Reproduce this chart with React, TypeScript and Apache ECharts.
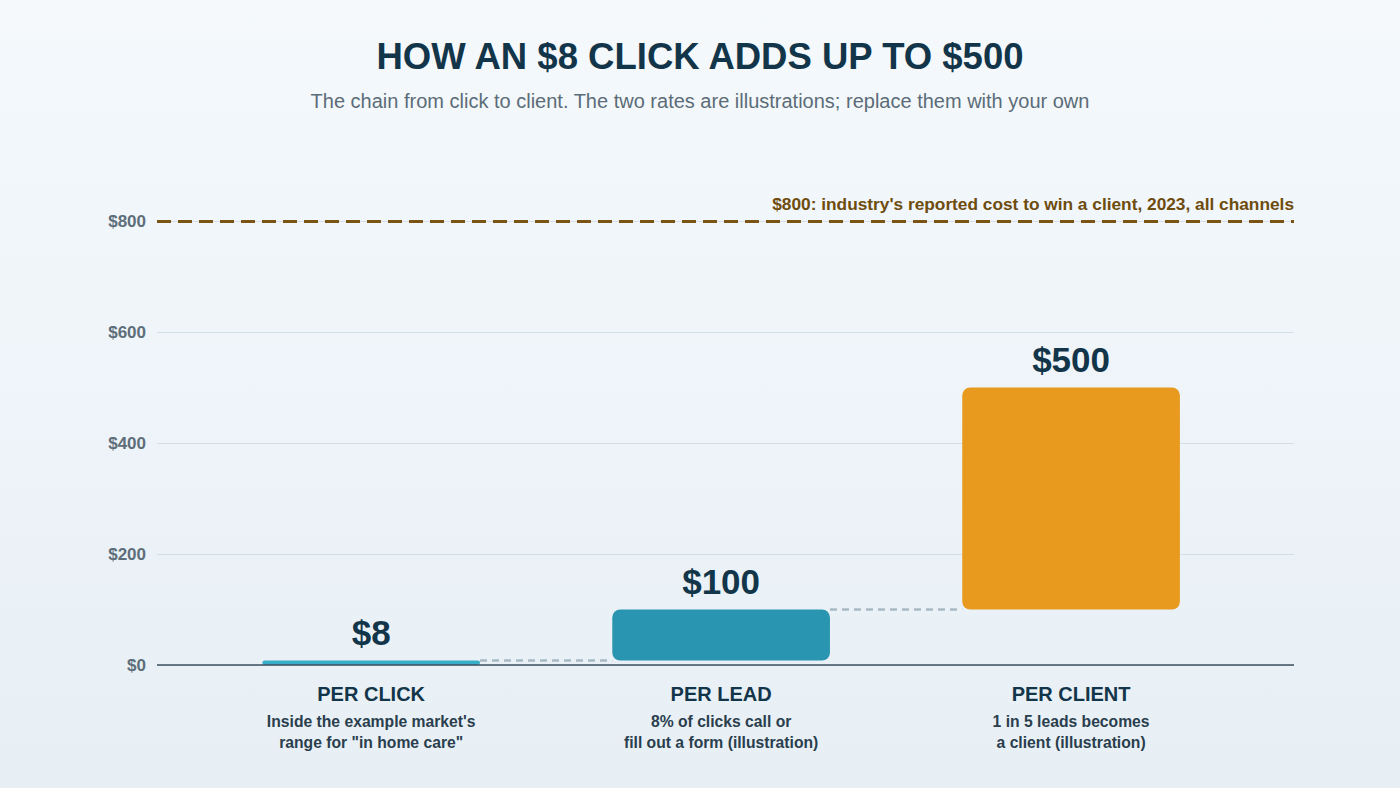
import React, { useEffect, useRef } from "react";
import * as echarts from "echarts";

const categories = ["PER CLICK", "PER LEAD", "PER CLIENT"];
const notes = [
  ["Inside the example market's", 'range for "in home care"'],
  ["8% of clicks call or", "fill out a form (illustration)"],
  ["1 in 5 leads becomes", "a client (illustration)"],
];
const barBase = [0, 8, 100];
const barTop = [8, 100, 500];
const valueLabels = ["$8", "$100", "$500"];
const barColors = ["#38aec9", "#2a95b0", "#e89a1f"];
const benchmark = 800;
const benchmarkLabel = "$800: industry's reported cost to win a client, 2023, all channels";
const yMin = 0;
const yMax = 800;
const yStep = 200;

const HALF = 0.311;
const NAVY = "#13354a";

export default function App() {
  const ref = useRef<HTMLDivElement>(null);
  useEffect(() => {
    if (!ref.current) return;
    const chart = echarts.init(ref.current, null, { renderer: "svg" });
    const barData = categories.map((c, i) => [i, barBase[i], barTop[i]]);
    const connData = barTop.slice(0, -1).map((v, i) => [i, v]);
    chart.setOption({
      animation: false,
      backgroundColor: new echarts.graphic.LinearGradient(0, 0, 0, 1, [
        { offset: 0, color: "#f5f9fc" },
        { offset: 1, color: "#e7eff5" },
      ]),
      title: [
        {
          text: "HOW AN $8 CLICK ADDS UP TO $500",
          left: "center",
          top: 33,
          textStyle: { fontFamily: "Liberation Sans", fontSize: 36.5, fontWeight: "bold", color: NAVY },
        },
        {
          text: "The chain from click to client. The two rates are illustrations; replace them with your own",
          left: "center",
          top: 86,
          textStyle: { fontFamily: "Liberation Sans", fontSize: 20, fontWeight: "normal", color: "#5b6c78" },
        },
      ],
      grid: { left: 157, right: 106, top: 221, bottom: 123 },
      xAxis: {
        type: "value",
        min: -0.612,
        max: 2.637,
        show: false,
      },
      yAxis: {
        type: "value",
        min: yMin,
        max: yMax,
        interval: yStep,
        axisLine: { show: false },
        axisTick: { show: false },
        axisLabel: {
          formatter: (v: number) => "$" + v,
          fontFamily: "Liberation Sans",
          fontSize: 17,
          fontWeight: "bold",
          color: "#5d6e7a",
          margin: 11,
        },
        splitLine: { lineStyle: { color: "#d3dfe7", width: 1 } },
      },
      series: [
        {
          type: "custom",
          clip: false,
          data: connData,
          z: 2,
          renderItem: (params: any, api: any) => {
            const x = api.value(0);
            const v = api.value(1);
            const p1 = api.coord([x + HALF, v]);
            const p2 = api.coord([x + 1 - HALF, v]);
            return {
              type: "line",
              shape: { x1: p1[0], y1: p1[1], x2: p2[0], y2: p2[1] },
              style: { stroke: "#a9b9c3", lineWidth: 2.5, lineDash: [7, 5] },
            };
          },
        },
        {
          type: "custom",
          clip: false,
          data: barData,
          z: 3,
          renderItem: (params: any, api: any) => {
            const i = params.dataIndex;
            const x = api.value(0);
            const lo = api.value(1);
            const hi = api.value(2);
            const tl = api.coord([x - HALF, hi]);
            const br = api.coord([x + HALF, lo]);
            const h = Math.max(br[1] - tl[1], 4);
            const base = api.coord([x, 0]);
            const r = Math.min(8, h / 2);
            return {
              type: "group",
              children: [
                {
                  type: "rect",
                  shape: { x: tl[0], y: br[1] - h, width: br[0] - tl[0], height: h, r },
                  style: { fill: barColors[i] },
                },
                {
                  type: "text",
                  x: base[0],
                  y: br[1] - h - 28,
                  style: {
                    text: valueLabels[i],
                    fontFamily: "Liberation Sans",
                    fontSize: 35,
                    fontWeight: "bold",
                    fill: NAVY,
                    align: "center",
                    verticalAlign: "middle",
                  },
                },
                {
                  type: "text",
                  x: base[0],
                  y: base[1] + 29,
                  style: {
                    text: categories[i],
                    fontFamily: "Liberation Sans",
                    fontSize: 20,
                    fontWeight: "bold",
                    fill: NAVY,
                    align: "center",
                    verticalAlign: "middle",
                  },
                },
                {
                  type: "text",
                  x: base[0],
                  y: base[1] + 56,
                  style: {
                    text: notes[i][0],
                    fontFamily: "Liberation Sans",
                    fontSize: 15.7,
                    fontWeight: "bold",
                    fill: "#2a3e4d",
                    align: "center",
                    verticalAlign: "middle",
                  },
                },
                {
                  type: "text",
                  x: base[0],
                  y: base[1] + 77,
                  style: {
                    text: notes[i][1],
                    fontFamily: "Liberation Sans",
                    fontSize: 15.7,
                    fontWeight: "bold",
                    fill: "#2a3e4d",
                    align: "center",
                    verticalAlign: "middle",
                  },
                },
              ],
            };
          },
        },
        {
          type: "line",
          data: [],
          z: 4,
          markLine: {
            silent: true,
            symbol: "none",
            lineStyle: { color: "#7a5412", width: 3, type: [14, 7] },
            label: {
              show: true,
              position: "insideEndTop",
              formatter: benchmarkLabel,
              fontFamily: "Liberation Sans",
              fontSize: 17.3,
              fontWeight: "bold",
              color: "#6e4c0e",
              distance: [0, 9],
            },
            data: [{ yAxis: benchmark }],
          },
        },
        {
          type: "line",
          data: [],
          z: 5,
          markLine: {
            silent: true,
            symbol: "none",
            label: { show: false },
            lineStyle: { color: "#3d4f5c", width: 1.5, type: "solid" },
            data: [{ yAxis: 0 }],
          },
        },
      ],
    });
    return () => chart.dispose();
  }, []);
  return (
    <div
      ref={ref}
      style={{ position: "absolute", left: 0, top: 0, width: 1400, height: 788 }}
    />
  );
}
